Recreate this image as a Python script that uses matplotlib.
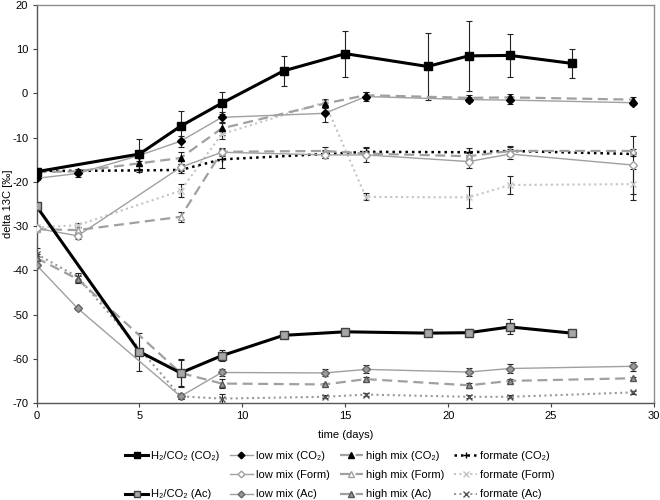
import matplotlib
matplotlib.use("Agg")
import matplotlib.pyplot as plt

plt.rcParams['font.family'] = ['Liberation Sans', 'DejaVu Sans']
plt.rcParams['axes.unicode_minus'] = False

# ---------------- data ----------------
days_h2 = [0, 5, 7, 9, 12, 15, 19, 21, 23, 26]
h2_co2 = [-17.7, -13.7, -7.4, -2.2, 5.1, 9.0, 6.1, 8.5, 8.6, 6.8]
h2_co2_err = [0.8, 3.4, 3.5, 2.5, 3.4, 5.2, 7.5, 7.9, 4.9, 3.2]
h2_ac = [-25.5, -58.4, -63.2, -59.3, -54.7, -53.9, -54.2, -54.1, -52.8, -54.2]
h2_ac_err = [0.3, 4.3, 3.1, 1.2, 0.3, 0.3, 0.3, 0.8, 1.7, 0.3]

days_co2 = [0, 2, 5, 7, 9, 14, 16, 21, 23, 29]
low_co2 = [-19.2, -18.1, -14.0, -10.8, -5.4, -4.5, -0.7, -1.4, -1.5, -2.1]
low_co2_err = [0.3, 0.7, 0.5, 1.2, 1.3, 2.0, 1.0, 0.5, 0.9, 0.5]
high_co2 = [-17.8, -17.6, -15.8, -14.6, -7.9, -2.3, -0.4, -1.0, -0.9, -1.4]
high_co2_err = [0.3, 0.5, 0.5, 1.3, 1.5, 1.0, 0.8, 0.6, 0.8, 0.5]
form_co2 = [-17.5, -17.5, -17.4, -17.3, -14.9, -13.7, -13.2, -13.3, -13.0, -13.7]
form_co2_err = [0.3, 0.3, 0.3, 0.8, 2.0, 0.8, 1.0, 1.0, 1.2, 0.5]

days_x = [0, 2, 7, 9, 14, 16, 21, 23, 29]
low_form = [-30.5, -32.2, -16.7, -13.3, -13.9, -13.9, -15.4, -13.7, -16.2]
low_form_err = [0.3, 0.8, 0.8, 0.8, 0.8, 1.5, 1.5, 1.2, 6.5]
high_form = [-30.7, -30.9, -27.9, -13.2, -13.0, -13.6, -14.2, -13.0, -13.0]
high_form_err = [0.3, 0.8, 1.2, 0.8, 0.8, 0.5, 0.8, 0.8, 0.5]
form_form = [-30.3, -29.8, -22.0, -9.2, -2.0, -23.4, -23.5, -20.7, -20.5]
form_form_err = [0.3, 0.5, 1.5, 1.0, 0.5, 0.8, 2.5, 2.0, 3.5]

low_ac = [-38.8, -48.6, -68.5, -63.1, -63.2, -62.4, -63.0, -62.2, -61.7]
low_ac_err = [0.3, 0.3, 0.5, 0.8, 0.8, 0.9, 1.0, 1.0, 1.0]
high_ac = [-37.2, -42.0, -63.2, -65.6, -65.8, -64.6, -66.0, -65.0, -64.4]
high_ac_err = [0.8, 0.8, 3.0, 1.0, 0.3, 0.5, 0.5, 0.5, 0.3]
form_ac = [-36.3, -41.5, -68.5, -69.0, -68.6, -68.1, -68.6, -68.6, -67.6]
form_ac_err = [1.3, 0.8, 0.5, 1.0, 0.3, 0.3, 0.3, 0.3, 0.3]

xticks = [0, 5, 10, 15, 20, 25, 30]
yticks = [-70, -60, -50, -40, -30, -20, -10, 0, 10, 20]

# ---------------- figure ----------------
fig = plt.figure(figsize=(6.6, 5.0), dpi=100)
ax = fig.add_axes([36.5 / 660, 1 - 403 / 500, (654 - 36.5) / 660, (403 - 5) / 500])

G = '#a0a0a0'
LG = '#c4c4c4'
MG = '#9a9a9a'
DASH = (0, (4.5, 2.5))
DOT = (0, (1, 1.6))

series = [
    # x, y, err, label, line color, lw, ls, marker, mfc, mec, ms
    (days_x, form_ac, form_ac_err, 'formate (Ac)', MG, 1.5, DOT, 'x', 'none', '#555555', 5),
    (days_x, form_form, form_form_err, 'formate (Form)', LG, 1.5, DOT, 'x', 'none', LG, 5),
    (days_co2, form_co2, form_co2_err, 'formate (CO₂)', 'black', 1.8, DOT, '+', 'black', 'black', 5),
    (days_x, high_ac, high_ac_err, 'high mix (Ac)', G, 1.6, DASH, '^', '#9a9a9a', '#555555', 4.5),
    (days_x, high_form, high_form_err, 'high mix (Form)', G, 1.6, DASH, '^', 'white', G, 4.5),
    (days_co2, high_co2, high_co2_err, 'high mix (CO₂)', G, 1.6, DASH, '^', 'black', 'black', 4.5),
    (days_x, low_ac, low_ac_err, 'low mix (Ac)', G, 1.0, '-', 'D', '#9a9a9a', '#666666', 4),
    (days_x, low_form, low_form_err, 'low mix (Form)', G, 1.0, '-', 'D', 'white', G, 4),
    (days_co2, low_co2, low_co2_err, 'low mix (CO₂)', G, 1.0, '-', 'D', 'black', 'black', 4),
    (days_h2, h2_ac, h2_ac_err, 'H₂/CO₂ (Ac)', 'black', 2.2, '-', 's', '#a6a6a6', '#404040', 5.5),
    (days_h2, h2_co2, h2_co2_err, 'H₂/CO₂ (CO₂)', 'black', 2.2, '-', 's', 'black', 'black', 5.5),
]

handles = {}
for x, y, e, lab, c, lw, ls, m, mfc, mec, ms in series:
    ax.errorbar(x, y, yerr=e, fmt='none', ecolor='#222222', elinewidth=0.8,
                capsize=2.5, capthick=0.8, zorder=2)
    ln, = ax.plot(x, y, color=c, lw=lw, linestyle=ls, marker=m, markerfacecolor=mfc,
                  markeredgecolor=mec, markersize=ms, markeredgewidth=1.0, zorder=3,
                  label=lab)
    handles[lab] = ln

ax.set_xlim(0, 30)
ax.set_ylim(-70, 20)
ax.set_xticks(xticks)
ax.set_yticks(yticks)
ax.tick_params(axis='both', labelsize=8, direction='out', length=3, width=0.8,
               color='#404040', pad=3)
for s in ['left', 'bottom']:
    ax.spines[s].set_color('#555555')
    ax.spines[s].set_linewidth(1.0)
for s in ['top', 'right']:
    ax.spines[s].set_color('#8c8c8c')
    ax.spines[s].set_linewidth(1.0)

ax.set_xlabel('time (days)', fontsize=8, labelpad=6)
ax.set_ylabel('delta 13C [‰]', fontsize=8)
ax.yaxis.set_label_coords(-0.038, 0.5)

blank_key = 'H₂/CO₂ (CO₂)'
order = ['H₂/CO₂ (CO₂)', None, 'H₂/CO₂ (Ac)',
         'low mix (CO₂)', 'low mix (Form)', 'low mix (Ac)',
         'high mix (CO₂)', 'high mix (Form)', 'high mix (Ac)',
         'formate (CO₂)', 'formate (Form)', 'formate (Ac)']
hs = [handles[k if k else blank_key] for k in order]
labels = [k if k else blank_key for k in order]
leg = fig.legend(hs, labels, ncol=4, loc='center', bbox_to_anchor=(0.515, 0.05),
                 frameon=False, fontsize=8, handlelength=2.1, handletextpad=0.25,
                 columnspacing=0.9, labelspacing=0.85, borderaxespad=0, borderpad=0,
                 markerscale=0.85)
# hide the empty slot (row 2 of column 1) while keeping the grid aligned
leg.get_texts()[1].set_alpha(0)
leg.legend_handles[1].set_alpha(0)

fig.savefig('out.png', dpi=100)
